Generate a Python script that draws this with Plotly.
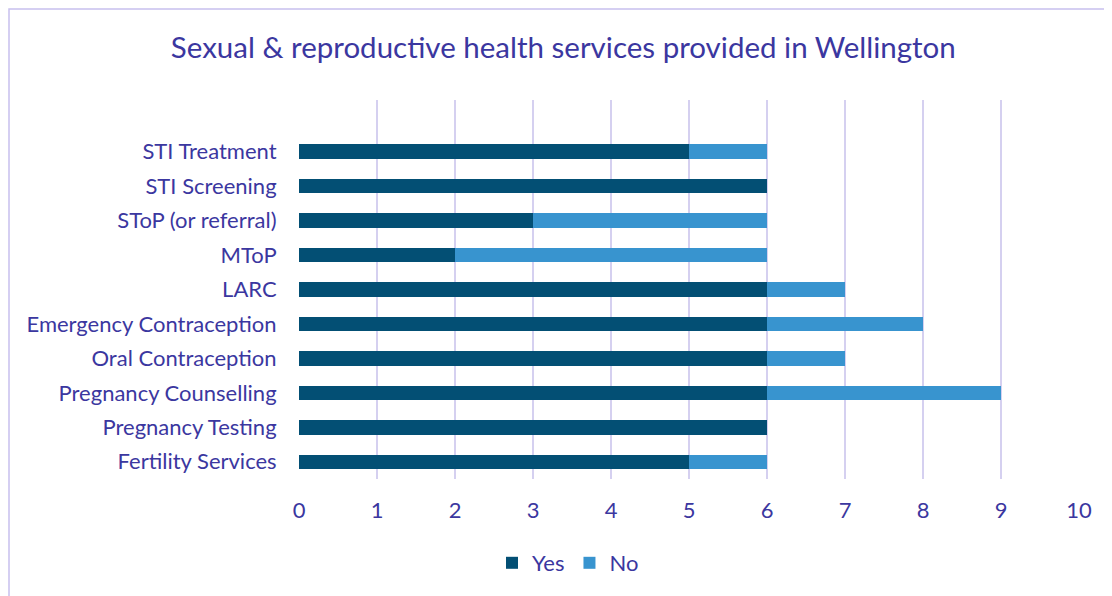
import plotly.graph_objects as go

categories = ["STI Treatment", "STI Screening", "SToP (or referral)", "MToP", "LARC",
              "Emergency Contraception", "Oral Contraception", "Pregnancy Counselling",
              "Pregnancy Testing", "Fertility Services"]
yes_vals = [5, 6, 3, 2, 6, 6, 6, 6, 6, 5]
no_vals = [1, 0, 3, 4, 1, 2, 1, 3, 0, 1]
x_ticks = [0, 1, 2, 3, 4, 5, 6, 7, 8, 9, 10]

TEXT = "#3B37A0"
FONT = "Lato"

fig = go.Figure()
fig.add_trace(go.Bar(y=categories, x=yes_vals, name="Yes", orientation="h",
                     marker=dict(color="#034F74", line=dict(width=0)), width=0.42))
fig.add_trace(go.Bar(y=categories, x=no_vals, name="No", orientation="h",
                     marker=dict(color="#3894CF", line=dict(width=0)), width=0.42))

fig.update_layout(
    barmode="stack",
    width=1104, height=588,
    margin=dict(l=291, r=33, t=92, b=117, autoexpand=False),
    paper_bgcolor="white", plot_bgcolor="white",
    font=dict(family=FONT, color=TEXT, size=22),
    title=dict(text="Sexual &amp; reproductive health services provided in Wellington",
               x=0.503, xanchor="center", y=1 - 40 / 588, yanchor="middle",
               font=dict(family=FONT, size=29.5, color=TEXT)),
    xaxis=dict(range=[0, 10], tickvals=x_ticks, showgrid=True, gridcolor="#D5D0F0",
               gridwidth=1.5, zeroline=False, showline=False,
               ticks="outside", ticklen=12, tickcolor="rgba(0,0,0,0)",
               tickfont=dict(size=22, color=TEXT)),
    yaxis=dict(range=[9.5, -1.5], showgrid=False, zeroline=False, showline=False,
               ticks="outside", ticklen=17, tickcolor="rgba(0,0,0,0)",
               tickfont=dict(size=22, color=TEXT)),
    legend=dict(orientation="h", x=(568 - 299) / 780, xanchor="center", y=-84 / 379,
                yanchor="middle", font=dict(size=22, color=TEXT), traceorder="normal",
                itemwidth=30),
    bargap=0.6,
    shapes=[dict(type="rect", xref="paper", yref="paper",
                 x0=(1 - 291) / 780, x1=1.1, y0=-0.4, y1=470 / 379,
                 line=dict(color="#C8C0EE", width=1.5), fillcolor="rgba(0,0,0,0)",
                 layer="below")],
)

fig.write_html("out.html")
